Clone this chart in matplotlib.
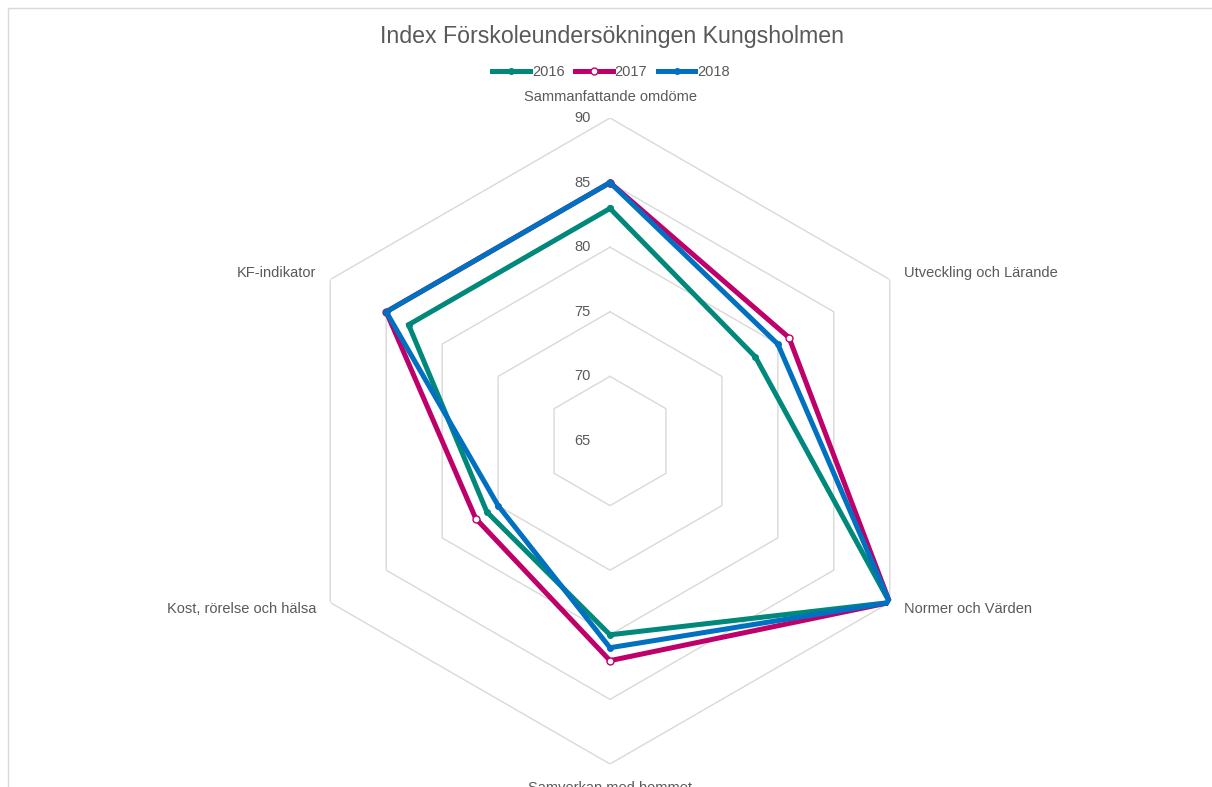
import numpy as np
import matplotlib
matplotlib.use("Agg")
import matplotlib.pyplot as plt
from matplotlib.patches import Rectangle
from matplotlib.lines import Line2D

categories = ["Sammanfattande omdöme", "Utveckling och Lärande", "Normer och Värden",
              "Samverkan med hemmet", "Kost, rörelse och hälsa", "KF-indikator"]
series_names = ["2016", "2017", "2018"]
values_2016 = [83, 78, 90, 80, 76, 83]
values_2017 = [85, 81, 90, 82, 77, 85]
values_2018 = [85, 80, 90, 81, 75, 85]
ticks = [65, 70, 75, 80, 85, 90]
title = "Index Förskoleundersökningen Kungsholmen"

colors = ["#00887A", "#C0006A", "#0070C0"]
text_color = "#595959"
grid_color = "#D9D9D9"

plt.rcParams['font.family'] = ['Liberation Sans', 'DejaVu Sans']

W, H = 1212, 787
fig = plt.figure(figsize=(W / 100, H / 100), dpi=100)

# chart border
fig.add_artist(Rectangle((8 / W, -0.05), 1.0, 1.05 - 8 / H, transform=fig.transFigure,
                         fill=False, edgecolor="#D9D9D9", lw=1))

cx, cy, R = 610, 441, 323
ax = fig.add_axes([(cx - R) / W, (H - cy - R) / H, 2 * R / W, 2 * R / H], projection='polar')
ax.set_theta_zero_location('N')
ax.set_theta_direction(-1)
ax.set_ylim(ticks[0], ticks[-1])
ax.grid(False)
ax.set_xticks([])
ax.set_yticks([])
ax.spines['polar'].set_visible(False)
ax.patch.set_alpha(0)

n = len(categories)
theta = np.arange(n) * 2 * np.pi / n
theta_c = np.append(theta, theta[0])

for t in ticks[1:]:
    ax.plot(theta_c, [t] * (n + 1), color=grid_color, lw=1, zorder=1)

for t in ticks:
    ax.annotate(str(t), xy=(0, t), xytext=(-14, 0), textcoords='offset points',
                ha='right', va='center', fontsize=10.5, color=text_color)

data = [values_2016, values_2017, values_2018]
handles = []
for name, vals, col in zip(series_names, data, colors):
    v = np.append(vals, vals[0])
    if name == "2017":
        mk = dict(marker='o', markersize=5, markerfacecolor='white', markeredgecolor=col, markeredgewidth=1)
    else:
        mk = dict(marker='o', markersize=4, markerfacecolor=col, markeredgecolor=col)
    ax.plot(theta_c, v, color=col, lw=3.6, zorder=3, solid_joinstyle='miter', **mk)
    handles.append(Line2D([0], [0], color=col, lw=3.6, **mk))

# category labels
label_pos = [
    dict(xytext=(0, 10), ha='center', va='bottom'),
    dict(xytext=(10, 5), ha='left', va='center'),
    dict(xytext=(10, -5), ha='left', va='center'),
    dict(xytext=(0, -12), ha='center', va='top'),
    dict(xytext=(-10, -5), ha='right', va='center'),
    dict(xytext=(-10, 5), ha='right', va='center'),
]
for th, cat, lp in zip(theta, categories, label_pos):
    ax.annotate(cat, xy=(th, ticks[-1]), textcoords='offset points', fontsize=10.5,
                color=text_color, annotation_clip=False, **lp)

fig.text(612 / W, 1 - 36 / H, title, ha='center', va='center', fontsize=16.7, color=text_color)

fig.legend(handles, series_names, loc='center', bbox_to_anchor=(611 / W, 1 - 72 / H), ncol=3,
           frameon=False, fontsize=10.5, handlelength=2.6, handletextpad=0.15, columnspacing=0.7,
           labelcolor=text_color)

fig.savefig("out.png", dpi=100, facecolor='white')
